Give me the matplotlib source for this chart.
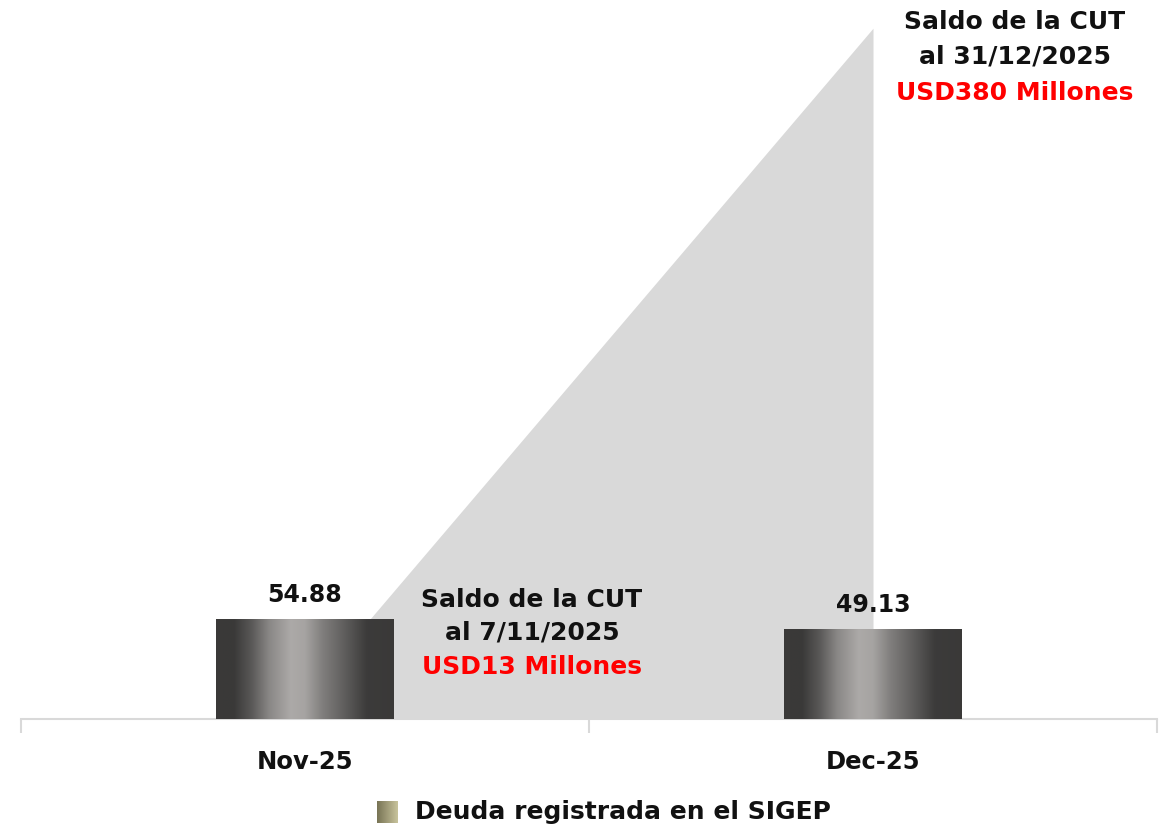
import numpy as np
import matplotlib
matplotlib.use("Agg")
import matplotlib.pyplot as plt

# datos
categorias = ["Nov-25", "Dec-25"]
deuda_sigep = [54.88, 49.13]
saldo_cut = [13, 380]
saldo_lineas = [["Saldo de la CUT", "al 7/11/2025", "USD13 Millones"],
                ["Saldo de la CUT", "al 31/12/2025", "USD380 Millones"]]
leyenda = "Deuda registrada en el SIGEP"

W, H = 1166, 832
fig = plt.figure(figsize=(W / 100, H / 100), dpi=100)
ax = fig.add_axes([21 / W, 113 / H, 1136 / W, 719 / H])

x = np.arange(len(categorias))
ancho = 0.313

# area gris del saldo de la CUT
ax.fill_between(x, 0, saldo_cut, color="#d9d9d9", lw=0, zorder=1)

# degradado horizontal de las barras
pos = np.linspace(0, 1, 200)
gris = np.interp(pos, [0, 0.1, 0.2, 0.3, 0.42, 0.5, 0.6, 0.72, 0.85, 1.0],
                 [0x3a, 0x3a, 0x5a, 0x8a, 0xac, 0xa6, 0x80, 0x60, 0x3c, 0x3a]) / 255
grad = np.stack([gris, gris * 0.985, gris * 0.975], axis=-1)[None, :, :]

for xi, v in zip(x, deuda_sigep):
    ax.imshow(grad, extent=[xi - ancho / 2, xi + ancho / 2, 0, v],
              aspect="auto", zorder=3, interpolation="bilinear")
    ax.text(xi, v + 7, f"{v:.2f}", ha="center", va="bottom",
            fontsize=17, fontweight="bold", color="#111111", zorder=5)

ax.set_xlim(-0.5, 1.5)
ax.set_ylim(0, 395.5)


def px(xp, yp):
    return xp / W, 1 - yp / H


# textos del saldo, linea por linea
cajas = [(532, [600, 633, 667]), (1015, [22, 57, 93])]
for (cx, ys), lineas in zip(cajas, saldo_lineas):
    for i, (yp, t) in enumerate(zip(ys, lineas)):
        fig.text(*px(cx, yp), t, ha="center", va="center", fontsize=18,
                 fontweight="bold", color="#ff0000" if i == 2 else "#111111")

# ejes
for s in ["top", "right", "left"]:
    ax.spines[s].set_visible(False)
ax.spines["bottom"].set_color("#d9d9d9")
ax.spines["bottom"].set_linewidth(1.5)
ax.set_yticks([])
ax.set_xticks([-0.5, 0.5, 1.5])
ax.set_xticklabels([])
ax.tick_params(axis="x", length=10, width=1.5, color="#d9d9d9")
ax.set_xticks(x, minor=True)
ax.set_xticklabels(categorias, minor=True, fontsize=17.5, fontweight="bold",
                   color="#111111")
ax.tick_params(axis="x", which="minor", length=0, pad=22)

# leyenda hecha a mano
lax = fig.add_axes([377 / W, (H - 823) / H, 21 / W, 22 / H])
pos2 = np.linspace(0, 1, 50)
oliva = np.stack([np.interp(pos2, [0, 1], [0x78, 0xc8]),
                  np.interp(pos2, [0, 1], [0x74, 0xc3]),
                  np.interp(pos2, [0, 1], [0x55, 0x9c])], axis=-1)[None] / 255
lax.imshow(oliva, aspect="auto")
lax.axis("off")
fig.text(415 / W, (H - 812) / H, leyenda, ha="left", va="center",
         fontsize=18, fontweight="bold", color="#111111")

fig.savefig("out.png", dpi=100)
